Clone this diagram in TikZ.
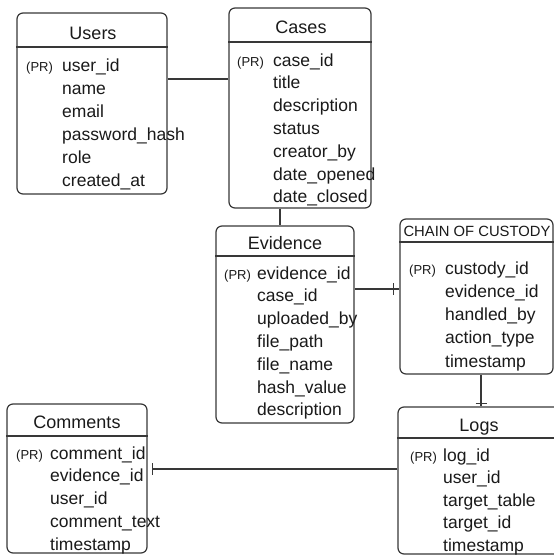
\documentclass[tikz,border=0pt]{standalone}
\usepackage{fontspec}
\setmainfont{Liberation Sans}
\usetikzlibrary{calc}
\definecolor{ink}{HTML}{1A1A1A}
\definecolor{edge}{HTML}{383838}

% table box given by its left, top, right and bottom edges
\newcommand\erbox[5]{%
  \node[tbl, minimum width={#4-#2}, minimum height={#5-#3}] (#1) at ({(#2+#4)/2},{(#3+#5)/2}) {};}
% line under the table title
\newcommand\erhead[2]{\draw[link] (#1.west |- 0,#2) -- (#1.east |- 0,#2);}
% primary-key marker plus the list of columns
\newcommand\ercols[6]{%
  \node[pr] (#1-pr) at (#2,#4) {(PR)};
  \foreach \f [count=\i from 0] in {#6} {\node[fld] (#1-\i) at (#3,{#4+\i*#5}) {\f};}}

\begin{document}
\begin{tikzpicture}[x=1pt,y=-1pt,
  tbl/.style={draw=edge, line width=1.2pt, rounded corners=6pt, inner sep=0pt, fill=white},
  ttl/.style={anchor=base, inner sep=0pt, text=ink, font=\fontsize{18}{20}\selectfont},
  fld/.style={anchor=base west, inner sep=0pt, text=ink, font=\fontsize{17.5}{20}\selectfont},
  pr/.style={anchor=base west, inner sep=0pt, text=ink, font=\fontsize{13}{15}\selectfont},
  link/.style={draw=edge, line width=1.2pt},
  tick/.style={draw=edge, line width=1.5pt}]
\useasboundingbox[fill=white] (0,0) rectangle (554,555);

% ---- Users ----
\erbox{users}{17}{13}{167}{194}
\erhead{users}{47}
\node[ttl] (users-t) at (93,39) {Users};
\ercols{users}{26}{62}{71}{23}{user\_id,name,email,password\_hash,role,created\_at}

% ---- Cases ----
\erbox{cases}{229}{8}{371}{208}
\erhead{cases}{42}
\node[ttl] (cases-t) at (301,33) {Cases};
\ercols{cases}{237}{273}{66}{22.8}{case\_id,title,description,status,creator\_by,date\_opened,date\_closed}

% ---- Evidence ----
\erbox{evidence}{216}{226}{354}{423}
\erhead{evidence}{256}
\node[ttl] (evidence-t) at (285,249) {Evidence};
\ercols{evidence}{224}{257}{279}{22.8}{evidence\_id,case\_id,uploaded\_by,file\_path,file\_name,hash\_value,description}

% ---- Chain of custody ----
\erbox{chain}{400}{219}{553}{374}
\erhead{chain}{242}
\node[ttl, font=\fontsize{14.8}{17}\selectfont] (chain-t) at (477,236) {CHAIN OF CUSTODY};
\ercols{chain}{409}{445}{274}{23.25}{custody\_id,evidence\_id,handled\_by,action\_type,timestamp}

% ---- Logs ----
\erbox{logs}{398}{407}{560}{554}
\erhead{logs}{438}
\node[ttl] (logs-t) at (479,431) {Logs};
\ercols{logs}{410}{443}{461}{22.5}{log\_id,user\_id,target\_table,target\_id,timestamp}

% ---- Comments ----
\erbox{comments}{7}{404}{147}{553}
\erhead{comments}{436}
\node[ttl] (comments-t) at (77,428) {Comments};
\ercols{comments}{16}{50}{459}{22.75}{comment\_id,evidence\_id,user\_id,comment\_text,timestamp}

% ---- relationships ----
\draw[link] (users.east |- 0,79) -- (cases.west |- 0,79);
\draw[link] (cases.south -| 280,0) -- (evidence.north -| 280,0);

\draw[link] (evidence.east |- 0,289) -- (chain.west |- 0,289);
\draw[tick] ($(chain.west |- 0,289)+(-6,-6)$) -- ++(0,12);

\draw[link] (chain.south -| 481,0) -- (logs.north -| 481,0);
\draw[tick] ($(logs.north -| 481,0)+(-5.5,-3)$) -- ++(11,0);

\path (comments.east) ++(5,0) coordinate (cmend);
\draw[link] (logs.west |- 0,469) -- (cmend |- 0,469);
\draw[tick] ($(cmend |- 0,469)+(0,-6)$) -- ++(0,12);
\end{tikzpicture}
\end{document}
